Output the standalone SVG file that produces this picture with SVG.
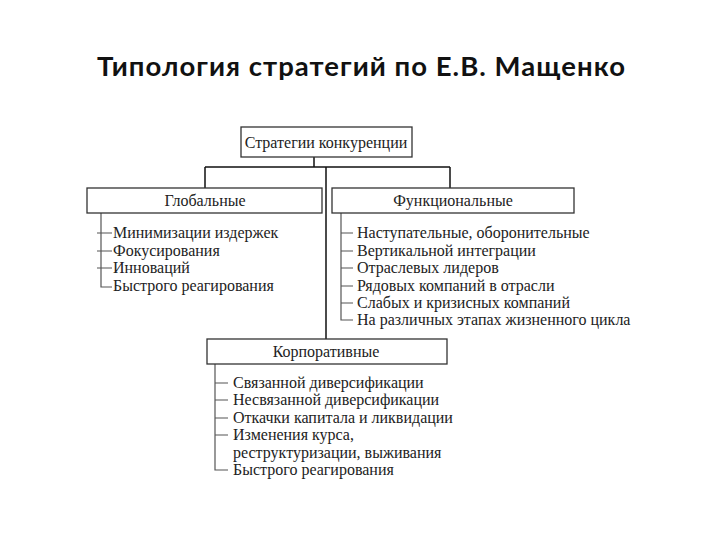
<svg xmlns="http://www.w3.org/2000/svg" width="720" height="540" viewBox="0 0 720 540">
<style>
.title{font-family:Lato,"Open Sans","Liberation Sans",sans-serif;font-weight:bold;font-size:27.5px;fill:#111}
.box{fill:#fff;stroke:#333;stroke-width:1.3}
.lbl{font-family:"Liberation Serif","DejaVu Serif",serif;font-size:16px;fill:#222;text-anchor:middle}
.item{font-family:"Liberation Serif","DejaVu Serif",serif;font-size:16px;fill:#222}
.ln{stroke:#111;stroke-width:1.5;fill:none}
.br{stroke:#555;stroke-width:1.2;fill:none}
</style>
<rect width="720" height="540" fill="#fff"/>
<text class="title" x="97" y="76" textLength="528" lengthAdjust="spacing">Типология стратегий по Е.В. Мащенко</text>
<g id="connectors">
<path class="ln" d="M314 157V167M205 167H450M205 167V188M450 167V188M326 167V339"/>
<path class="br" d="M101 213V287H112M97 233H112M97 251H112M97 268H112"/>
<path class="br" d="M341 213V320H353M341 233H353M341 251H353M341 268H353M341 286H353M341 303H353"/>
<path class="br" d="M215 363V470H228M215 383H228M215 400H228M215 418H228M215 435H228"/>
</g>
<g id="root">
<rect class="box" x="241" y="127" width="171" height="30"/>
<text class="lbl" x="326" y="148">Стратегии конкуренции</text>
</g>
<g id="global">
<rect class="box" x="87" y="188" width="235" height="25"/>
<text class="lbl" x="205" y="206">Глобальные</text>
<text class="item" x="113" y="238">Минимизации издержек</text>
<text class="item" x="113" y="256">Фокусирования</text>
<text class="item" x="113" y="273">Инноваций</text>
<text class="item" x="113" y="291">Быстрого реагирования</text>
</g>
<g id="functional">
<rect class="box" x="332" y="188" width="242" height="25"/>
<text class="lbl" x="453" y="206">Функциональные</text>
<text class="item" x="357" y="238">Наступательные, оборонительные</text>
<text class="item" x="357" y="256">Вертикальной интеграции</text>
<text class="item" x="357" y="273">Отраслевых лидеров</text>
<text class="item" x="357" y="291">Рядовых компаний в отрасли</text>
<text class="item" x="357" y="308">Слабых и кризисных компаний</text>
<text class="item" x="357" y="325">На различных этапах жизненного цикла</text>
</g>
<g id="corporate">
<rect class="box" x="207" y="339" width="240" height="25"/>
<text class="lbl" x="326" y="357">Корпоративные</text>
<text class="item" x="233" y="388">Связанной диверсификации</text>
<text class="item" x="233" y="405">Несвязанной диверсификации</text>
<text class="item" x="233" y="423">Откачки капитала и ликвидации</text>
<text class="item" x="233" y="440">Изменения курса,</text>
<text class="item" x="233" y="458">реструктуризации, выживания</text>
<text class="item" x="233" y="475">Быстрого реагирования</text>
</g>
</svg>
